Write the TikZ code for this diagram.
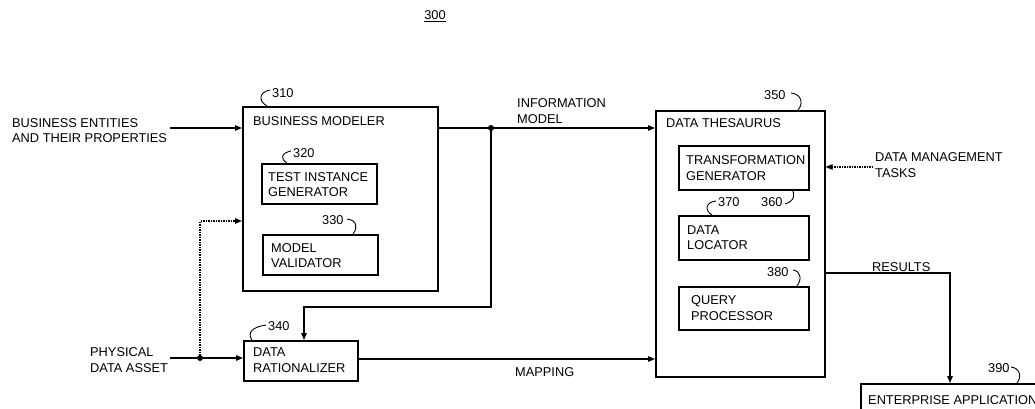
\documentclass[tikz,border=0pt]{standalone}
\usepackage{fontspec}
\setmainfont{Liberation Sans}
\usetikzlibrary{arrows.meta}
\begin{document}
\begin{tikzpicture}[x=1pt,y=-1pt,
  every node/.style={font=\fontsize{12.8}{15.5}\selectfont},
  blk/.style={draw, line width=1.6pt, anchor=north west, inner sep=0pt},
  txt/.style={inner sep=0pt, anchor=west, align=left},
  lead/.style={line width=0.9pt},
  conn/.style={line width=1.3pt},
  arr/.style={conn, -{Triangle[length=7pt,width=5.5pt]}},
  dotarr/.style={arr, dash pattern=on 1.5pt off 1pt},
  jdot/.style={fill, radius=3pt}]
\useasboundingbox (0,0) rectangle (1035,409);
\clip (0,0) rectangle (1035,409);

% figure number
\node[inner sep=0pt] (fig) at (435,16) {\underline{300}};

% boxes
\node[blk, minimum width=195pt, minimum height=184pt] (bm) at (242,106) {};
\node[blk, minimum width=115pt, minimum height=40pt] (tig) at (261,163) {};
\node[blk, minimum width=115pt, minimum height=40pt] (mv) at (262,234) {};
\node[blk, minimum width=114pt, minimum height=40pt] (dr) at (243,340) {};
\node[blk, minimum width=169pt, minimum height=266pt] (dt) at (655,110) {};
\node[blk, minimum width=130pt, minimum height=44pt] (tg) at (678,145) {};
\node[blk, minimum width=130pt, minimum height=44pt] (dl) at (678,215) {};
\node[blk, minimum width=130pt, minimum height=43pt] (qp) at (678,286) {};
\node[blk, minimum width=240pt, minimum height=70pt] (ea) at (860,383) {};

% box texts
\node[txt] (bmT) at (253,121) {BUSINESS MODELER};
\node[txt] (tigT) at (268,184.5) {TEST INSTANCE\\GENERATOR};
\node[txt] (mvT) at (271,255.5) {MODEL\\VALIDATOR};
\node[txt] (drT) at (253,360) {DATA\\RATIONALIZER};
\node[txt] (dtT) at (666,123) {DATA THESAURUS};
\node[txt] (tgT) at (686,168) {TRANSFORMATION\\GENERATOR};
\node[txt] (dlT) at (687,237.5) {DATA\\LOCATOR};
\node[txt] (qpT) at (691,308) {QUERY\\PROCESSOR};
\node[txt] (eaT) at (868,400) {ENTERPRISE APPLICATION};

% free labels
\node[txt] (beT) at (12,130.5) {BUSINESS ENTITIES\\AND THEIR PROPERTIES};
\node[txt] (pdaT) at (90,360) {PHYSICAL\\DATA ASSET};
\node[txt] (imT) at (517,111) {INFORMATION\\MODEL};
\node[txt] (dmtT) at (875,165) {DATA MANAGEMENT\\TASKS};
\node[txt] (resT) at (872,267) {RESULTS};
\node[txt] (mapT) at (515,372) {MAPPING};

% reference numerals
\node[txt] (n310) at (272,93) {310};
\node[txt] (n320) at (293,153) {320};
\node[txt] (n330) at (322,220) {330};
\node[txt] (n340) at (268,326) {340};
\node[txt] (n350) at (764,95) {350};
\node[txt] (n360) at (761,202) {360};
\node[txt] (n370) at (718,202) {370};
\node[txt] (n380) at (767,272) {380};
\node[txt] (n390) at (988,368) {390};

% leader curls
\draw[lead] (270,90) .. controls (259,92) and (258,101) .. (267,106);
\draw[lead] (291,151) .. controls (281,153) and (280,159) .. (287,163);
\draw[lead] (347,219) .. controls (357,220) and (358,228) .. (353,234);
\draw[lead] (266,325) .. controls (252,327) and (247,333) .. (252,340);
\draw[lead] (791,93) .. controls (801,94) and (804,103) .. (798,110);
\draw[lead] (785,204) .. controls (795,201) and (795,194) .. (792,189);
\draw[lead] (716,201) .. controls (706,202) and (704,210) .. (712,215);
\draw[lead] (793,270) .. controls (801,271) and (802,280) .. (797,286);
\draw[lead] (1011,367) .. controls (1020,368) and (1022,377) .. (1017,383);

% connectors
\coordinate (beEnd) at (170,128);
\draw[arr] (beEnd) -- (beEnd -| bm.west);

\coordinate (pdaEnd) at (170,358);
\coordinate (j1) at (200,358);
\draw[arr] (pdaEnd) -- (pdaEnd -| dr.west);
\fill[jdot] (j1) circle;
\coordinate (bmIn) at (242,221);
\draw[dotarr] (j1) |- (bmIn -| bm.west);

\coordinate (j2) at (491,128);
\draw[arr] (bm.east |- j2) -- (j2 -| dt.west);
\fill[jdot] (j2) circle;
\coordinate (k) at (304,307);
\draw[arr] (j2) |- (k) -- (k |- dr.north);

\coordinate (m) at (357,359);
\draw[arr] (dr.east |- m) -- (m -| dt.west);

\coordinate (dmtEnd) at (873,167);
\draw[dotarr] (dmtEnd) -- (dmtEnd -| dt.east);

\coordinate (r) at (950,273);
\draw[arr] (dt.east |- r) -| (r |- ea.north);
\end{tikzpicture}
\end{document}
